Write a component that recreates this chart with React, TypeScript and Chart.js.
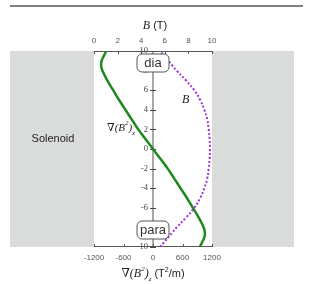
import React, { useEffect, useRef } from "react";
import { Chart, registerables } from "chart.js";

Chart.register(...registerables);

// position along the solenoid axis (z)
const zValues = [-10, -9.5, -9, -8.5, -8, -7, -6, -5, -4, -3, -2, -1, 0, 1, 2, 3, 4, 5, 6, 7, 8, 8.5, 9, 9.5, 10];
// magnetic field B (T)
const bValues = [5.6, 5.95, 6.3, 6.65, 7.0, 7.8, 8.5, 9.0, 9.35, 9.6, 9.72, 9.8, 9.82, 9.8, 9.72, 9.6, 9.35, 9.0, 8.5, 7.8, 7.0, 6.65, 6.3, 5.95, 5.6];
// field-squared gradient (T^2/m)
const gradValues = [950, 1000, 1045, 1055, 1030, 930, 810, 690, 560, 430, 300, 150, 0, -150, -300, -430, -560, -690, -810, -930, -1030, -1055, -1045, -1000, -950];

const bTicks = [0, 2, 4, 6, 8, 10];
const gradTicks = [-1200, -600, 0, 600, 1200];
const zTicks = [-10, -8, -6, -4, -2, 0, 2, 4, 6, 8, 10];

type Part = { t: string; f: string; dy?: number };

function richWidth(ctx: CanvasRenderingContext2D, parts: Part[]) {
  let w = 0;
  for (const p of parts) {
    ctx.font = p.f;
    w += ctx.measureText(p.t).width;
  }
  return w;
}

function drawRich(ctx: CanvasRenderingContext2D, parts: Part[], x: number, y: number, align: "left" | "center") {
  let cx = align === "center" ? x - richWidth(ctx, parts) / 2 : x;
  ctx.textAlign = "left";
  ctx.textBaseline = "alphabetic";
  for (const p of parts) {
    ctx.font = p.f;
    ctx.fillText(p.t, cx, y + (p.dy || 0));
    cx += ctx.measureText(p.t).width;
  }
}

function roundBox(ctx: CanvasRenderingContext2D, x: number, y: number, w: number, h: number, r: number, label: string) {
  ctx.beginPath();
  ctx.moveTo(x + r, y);
  ctx.lineTo(x + w - r, y);
  ctx.arcTo(x + w, y, x + w, y + r, r);
  ctx.lineTo(x + w, y + h - r);
  ctx.arcTo(x + w, y + h, x + w - r, y + h, r);
  ctx.lineTo(x + r, y + h);
  ctx.arcTo(x, y + h, x, y + h - r, r);
  ctx.lineTo(x, y + r);
  ctx.arcTo(x, y, x + r, y, r);
  ctx.closePath();
  ctx.fillStyle = "#ffffff";
  ctx.fill();
  ctx.strokeStyle = "#555";
  ctx.lineWidth = 1;
  ctx.stroke();
  ctx.fillStyle = "#333";
  ctx.font = '13px "Liberation Sans"';
  ctx.textAlign = "center";
  ctx.textBaseline = "middle";
  ctx.fillText(label, x + w / 2, y + h / 2 + 0.5);
}

const SERIF = '"Liberation Serif", "DejaVu Serif", serif';
const SANS = '"Liberation Sans", Arial, sans-serif';

const decoPlugin = {
  id: "deco",
  beforeDraw(chart: any) {
    const { ctx, chartArea: ca } = chart;
    ctx.save();
    // top rule
    ctx.strokeStyle = "#555";
    ctx.lineWidth = 1.5;
    ctx.beginPath();
    ctx.moveTo(10, 6);
    ctx.lineTo(303, 6);
    ctx.stroke();
    // solenoid panels
    ctx.fillStyle = "#dadcdc";
    ctx.fillRect(10, ca.top, ca.left - 10, ca.bottom - ca.top);
    ctx.fillRect(ca.right, ca.top, 294 - ca.right, ca.bottom - ca.top);
    ctx.fillStyle = "#222";
    ctx.font = "11px " + SANS;
    ctx.textAlign = "center";
    ctx.textBaseline = "middle";
    ctx.fillText("Solenoid", (10 + ca.left) / 2 + 1, (ca.top + ca.bottom) / 2 - 10);
    ctx.restore();
  },
  beforeDatasetsDraw(chart: any) {
    const { ctx, chartArea: ca, scales } = chart;
    const xTop = scales.xTop, xBot = scales.xBot, y = scales.y;
    ctx.save();
    // vertical axis
    const x0 = xBot.getPixelForValue(0);
    ctx.strokeStyle = "#a8a8a8";
    ctx.lineWidth = 2;
    ctx.beginPath();
    ctx.moveTo(x0, ca.top);
    ctx.lineTo(x0, ca.bottom);
    ctx.stroke();
    ctx.strokeStyle = "#444";
    ctx.lineWidth = 1;
    for (const t of zTicks) {
      const py = Math.round(y.getPixelForValue(t)) + 0.5;
      ctx.beginPath();
      ctx.moveTo(x0 - 3, py);
      ctx.lineTo(x0 + 3, py);
      ctx.stroke();
    }
    // top axis
    ctx.strokeStyle = "#555";
    ctx.beginPath();
    ctx.moveTo(ca.left, ca.top + 0.5);
    ctx.lineTo(ca.right, ca.top + 0.5);
    ctx.stroke();
    for (const t of bTicks) {
      const px = Math.round(xTop.getPixelForValue(t)) + 0.5;
      ctx.beginPath();
      ctx.moveTo(px, ca.top);
      ctx.lineTo(px, ca.top + 3);
      ctx.stroke();
    }
    // bottom axis
    ctx.beginPath();
    ctx.moveTo(ca.left, ca.bottom - 0.5);
    ctx.lineTo(ca.right, ca.bottom - 0.5);
    ctx.stroke();
    for (const t of gradTicks) {
      const px = Math.round(xBot.getPixelForValue(t)) + 0.5;
      ctx.beginPath();
      ctx.moveTo(px, ca.bottom);
      ctx.lineTo(px, ca.bottom - 3);
      ctx.stroke();
    }
    ctx.restore();
  },
  afterDraw(chart: any) {
    const { ctx, chartArea: ca } = chart;
    ctx.save();
    const cx = (ca.left + ca.right) / 2;
    roundBox(ctx, cx - 16, 54, 32, 18, 5, "dia");
    roundBox(ctx, cx - 16, 221, 32, 18, 5, "para");

    ctx.fillStyle = "#222";
    // in-plot labels
    drawRich(ctx, [{ t: "B", f: "italic 12px " + SERIF }], 182, 103, "left");
    drawRich(
      ctx,
      [
        { t: "\u2207(B", f: "italic 11px " + SERIF },
        { t: "2", f: "italic 7px " + SERIF, dy: -6 },
        { t: ")", f: "italic 11px " + SERIF },
        { t: "z", f: "italic 7px " + SERIF, dy: 4 },
      ],
      107,
      131,
      "left"
    );
    // axis titles
    drawRich(
      ctx,
      [
        { t: "B", f: "italic 12px " + SERIF },
        { t: " (T)", f: "11px " + SANS },
      ],
      155,
      29,
      "center"
    );
    drawRich(
      ctx,
      [
        { t: "\u2207(B", f: "italic 12px " + SERIF },
        { t: "2", f: "italic 7px " + SERIF, dy: -6 },
        { t: ")", f: "italic 12px " + SERIF },
        { t: "z", f: "italic 7px " + SERIF, dy: 4 },
        { t: " (T", f: "11px " + SANS },
        { t: "2", f: "7px " + SANS, dy: -5 },
        { t: "/m)", f: "11px " + SANS },
      ],
      153,
      277,
      "center"
    );
    ctx.restore();
  },
};

const plain = (v: any) => String(v);

export default function App() {
  const ref = useRef<HTMLCanvasElement | null>(null);
  useEffect(() => {
    if (!ref.current) return;
    const chart = new Chart(ref.current, {
      type: "scatter",
      data: {
        datasets: [
          {
            label: "B",
            data: zValues.map((z, i) => ({ x: bValues[i], y: z })),
            xAxisID: "xTop",
            yAxisID: "y",
            showLine: true,
            borderColor: "#9a32d6",
            borderWidth: 2,
            borderDash: [2, 2],
            pointRadius: 0,
            tension: 0.4,
            fill: false,
          },
          {
            label: "grad",
            data: zValues.map((z, i) => ({ x: gradValues[i], y: z })),
            xAxisID: "xBot",
            yAxisID: "y",
            showLine: true,
            borderColor: "#1e8a1e",
            borderWidth: 2.5,
            pointRadius: 0,
            tension: 0.4,
            fill: false,
          },
        ],
      },
      options: {
        animation: false,
        responsive: false,
        maintainAspectRatio: false,
        events: [],
        layout: { padding: { left: 94, right: 101, top: 0, bottom: 0 } },
        plugins: { legend: { display: false }, tooltip: { enabled: false }, title: { display: false } },
        scales: {
          xTop: {
            type: "linear",
            position: "top",
            min: 0,
            max: 10,
            afterBuildTicks: (s: any) => {
              s.ticks = bTicks.map((v) => ({ value: v }));
            },
            afterFit: (s: any) => {
              s.height = 51;
            },
            ticks: { padding: 5, color: "#555", font: { family: "Liberation Sans", size: 8 }, maxRotation: 0, callback: plain },
            grid: { display: false, drawTicks: false },
            border: { display: false },
          },
          xBot: {
            type: "linear",
            position: "bottom",
            min: -1200,
            max: 1200,
            afterBuildTicks: (s: any) => {
              s.ticks = gradTicks.map((v) => ({ value: v }));
            },
            afterFit: (s: any) => {
              s.height = 37;
            },
            ticks: { padding: 6, color: "#555", font: { family: "Liberation Sans", size: 8 }, maxRotation: 0, callback: plain },
            grid: { display: false, drawTicks: false },
            border: { display: false },
          },
          y: {
            type: "linear",
            position: "center",
            min: -10,
            max: 10,
            afterBuildTicks: (s: any) => {
              s.ticks = zTicks.map((v) => ({ value: v }));
            },
            ticks: { padding: 0, color: "#444", font: { family: "Liberation Serif", size: 8.5 }, callback: plain },
            grid: { display: false, drawTicks: true, tickLength: 5 },
            border: { display: false },
          },
        },
      },
      plugins: [decoPlugin],
    } as any);
    return () => chart.destroy();
  }, []);
  return (
    <div style={{ position: "absolute", left: 0, top: 0, width: 313, height: 284 }}>
      <canvas ref={ref} width={313} height={284} style={{ display: "block" }} />
    </div>
  );
}
